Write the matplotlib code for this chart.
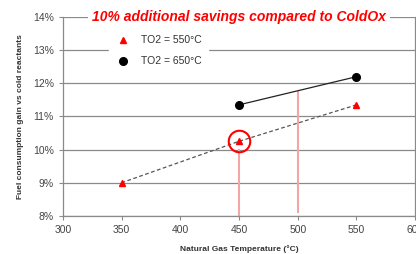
import matplotlib
matplotlib.use("Agg")
import matplotlib.pyplot as plt
from matplotlib.ticker import FuncFormatter

plt.rcParams['font.family'] = ['Liberation Sans', 'DejaVu Sans']

# data
temps_550 = [350, 450, 550]
gain_550 = [9.0, 10.25, 11.35]
temps_650 = [450, 550]
gain_650 = [11.35, 12.2]

# highlighted point and marker lines (x, y top)
circle_x, circle_y = 450, 10.25
vlines_x = [450, 500]
vlines_top = [10.03, 11.76]
vlines_bottom = [8.0, 8.08]

fig = plt.figure(figsize=(4.16, 2.54), dpi=100)
ax = fig.add_axes([0.151, 0.15, 0.847, 0.783])

ax.set_xlim(300, 600)
ax.set_ylim(8, 14)
ax.set_xticks(range(300, 601, 50))
ax.set_yticks(range(8, 15))
ax.yaxis.set_major_formatter(FuncFormatter(lambda v, p: f"{int(v)}%"))
ax.grid(axis='y', color='#8a8a8a', linewidth=0.9, zorder=0)
for s in ax.spines.values():
    s.set_color('#8a8a8a')
    s.set_linewidth(0.9)
ax.spines['top'].set_visible(False)
ax.tick_params(labelsize=7.5, colors='#8a8a8a', labelcolor='#444444', length=3, width=0.8)

ax.vlines(vlines_x, vlines_bottom, vlines_top, color='#f4a6a6', linewidth=1.5, zorder=2)

ax.plot(temps_550, gain_550, linestyle=(0, (3, 2)), color='#555555', linewidth=0.9, zorder=3)
ax.plot(temps_550, gain_550, linestyle='none', marker='^', color='red', markersize=5,
        label='TO2 = 550°C', zorder=4)
ax.plot(temps_650, gain_650, linestyle='-', color='#222222', linewidth=0.9, zorder=3)
ax.plot(temps_650, gain_650, linestyle='none', marker='o', color='black', markersize=5.5,
        label='TO2 = 650°C', zorder=4)

ax.plot([circle_x], [circle_y], marker='o', markersize=15.5, markerfacecolor='none',
        markeredgecolor='red', markeredgewidth=1.5, linestyle='none', zorder=5)

leg = ax.legend(loc='upper left', bbox_to_anchor=(0.115, 0.965), fontsize=7.5, frameon=True,
                handletextpad=1.0, labelspacing=1.05, borderpad=0.6, handlelength=1.5)
leg.get_frame().set_edgecolor('white')
leg.get_frame().set_facecolor('white')
leg.get_frame().set_alpha(1)
leg.get_frame().set_boxstyle('square', pad=0.0)
for t in leg.get_texts():
    t.set_color('#333333')

ax.text(0.5, 1.0, '10% additional savings compared to ColdOx', transform=ax.transAxes,
        ha='center', va='center', fontsize=10, color='red', fontweight='bold', style='italic',
        bbox=dict(facecolor='white', edgecolor='none', pad=3), zorder=6)

ax.set_xlabel('Natural Gas Temperature (°C)', fontsize=6, fontweight='bold', color='#333333', labelpad=7)
ax.set_ylabel('Fuel consumption gain vs cold reactants', fontsize=6, fontweight='bold', color='#333333', labelpad=6)

fig.savefig('out.png', dpi=100)
